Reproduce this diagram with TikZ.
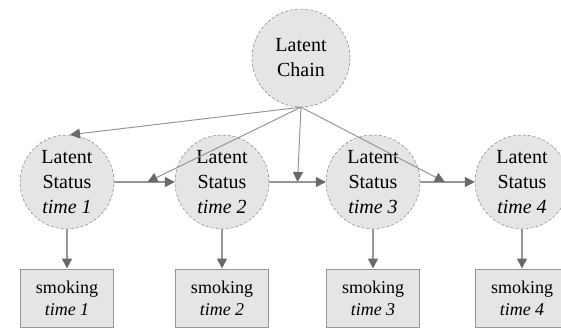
\documentclass[tikz,border=0pt]{standalone}
\usepackage{fontspec}
\setmainfont{Liberation Serif}
\usetikzlibrary{arrows.meta}
\definecolor{nodefill}{RGB}{229,229,229}
\definecolor{rimgray}{RGB}{110,110,110}
\definecolor{linegray}{RGB}{150,150,150}
\definecolor{tipgray}{RGB}{105,105,105}

\begin{document}
\begin{tikzpicture}[x=1pt,y=-1pt,
   latent/.style={draw=rimgray,dash pattern=on 3pt off 2pt,fill=nodefill,circle,
      inner sep=0pt,minimum size=94pt,align=center,font=\fontsize{20}{25}\selectfont},
   observed/.style={draw=linegray,line width=1pt,fill=nodefill,rectangle,inner sep=0pt,
      minimum width=93pt,minimum height=58pt,align=center,
      font=\fontsize{18}{22}\selectfont},
   link/.style={draw=linegray,line width=1.5pt,
      -{Triangle[length=10pt,width=10pt,fill=tipgray,color=tipgray]}},
   effect/.style={link,line width=1pt}]
\useasboundingbox (0,0) rectangle (561,328);
\node[latent,minimum size=98pt] (chain) at (301,58) {Latent\\Chain};
\foreach \t/\x in {1/67,2/222,3/373,4/522} {
  \node[latent] (status\t) at (\x,182) {Latent\\Status\\\textit{time \t}};
  \node[observed] (smoke\t) at (\x,298) {smoking\\\textit{time \t}};
  \draw[link] (status\t) -- (smoke\t);
}
% transitions between the time points
\draw[link] (status1) -- coordinate[pos=0.55] (step12) (status2);
\draw[link] (status2) -- coordinate[pos=0.5] (step23) (status3);
\draw[link] (status3) -- coordinate[pos=0.45] (step34) (status4);
% effects of the chain
\draw[effect] (chain.south) -- ([xshift=3pt]status1.north);
\draw[effect] (chain.south) -- (step12);
\draw[effect] (chain.south) -- (step23);
\draw[effect] (chain.south) -- (step34);
\end{tikzpicture}
\end{document}
